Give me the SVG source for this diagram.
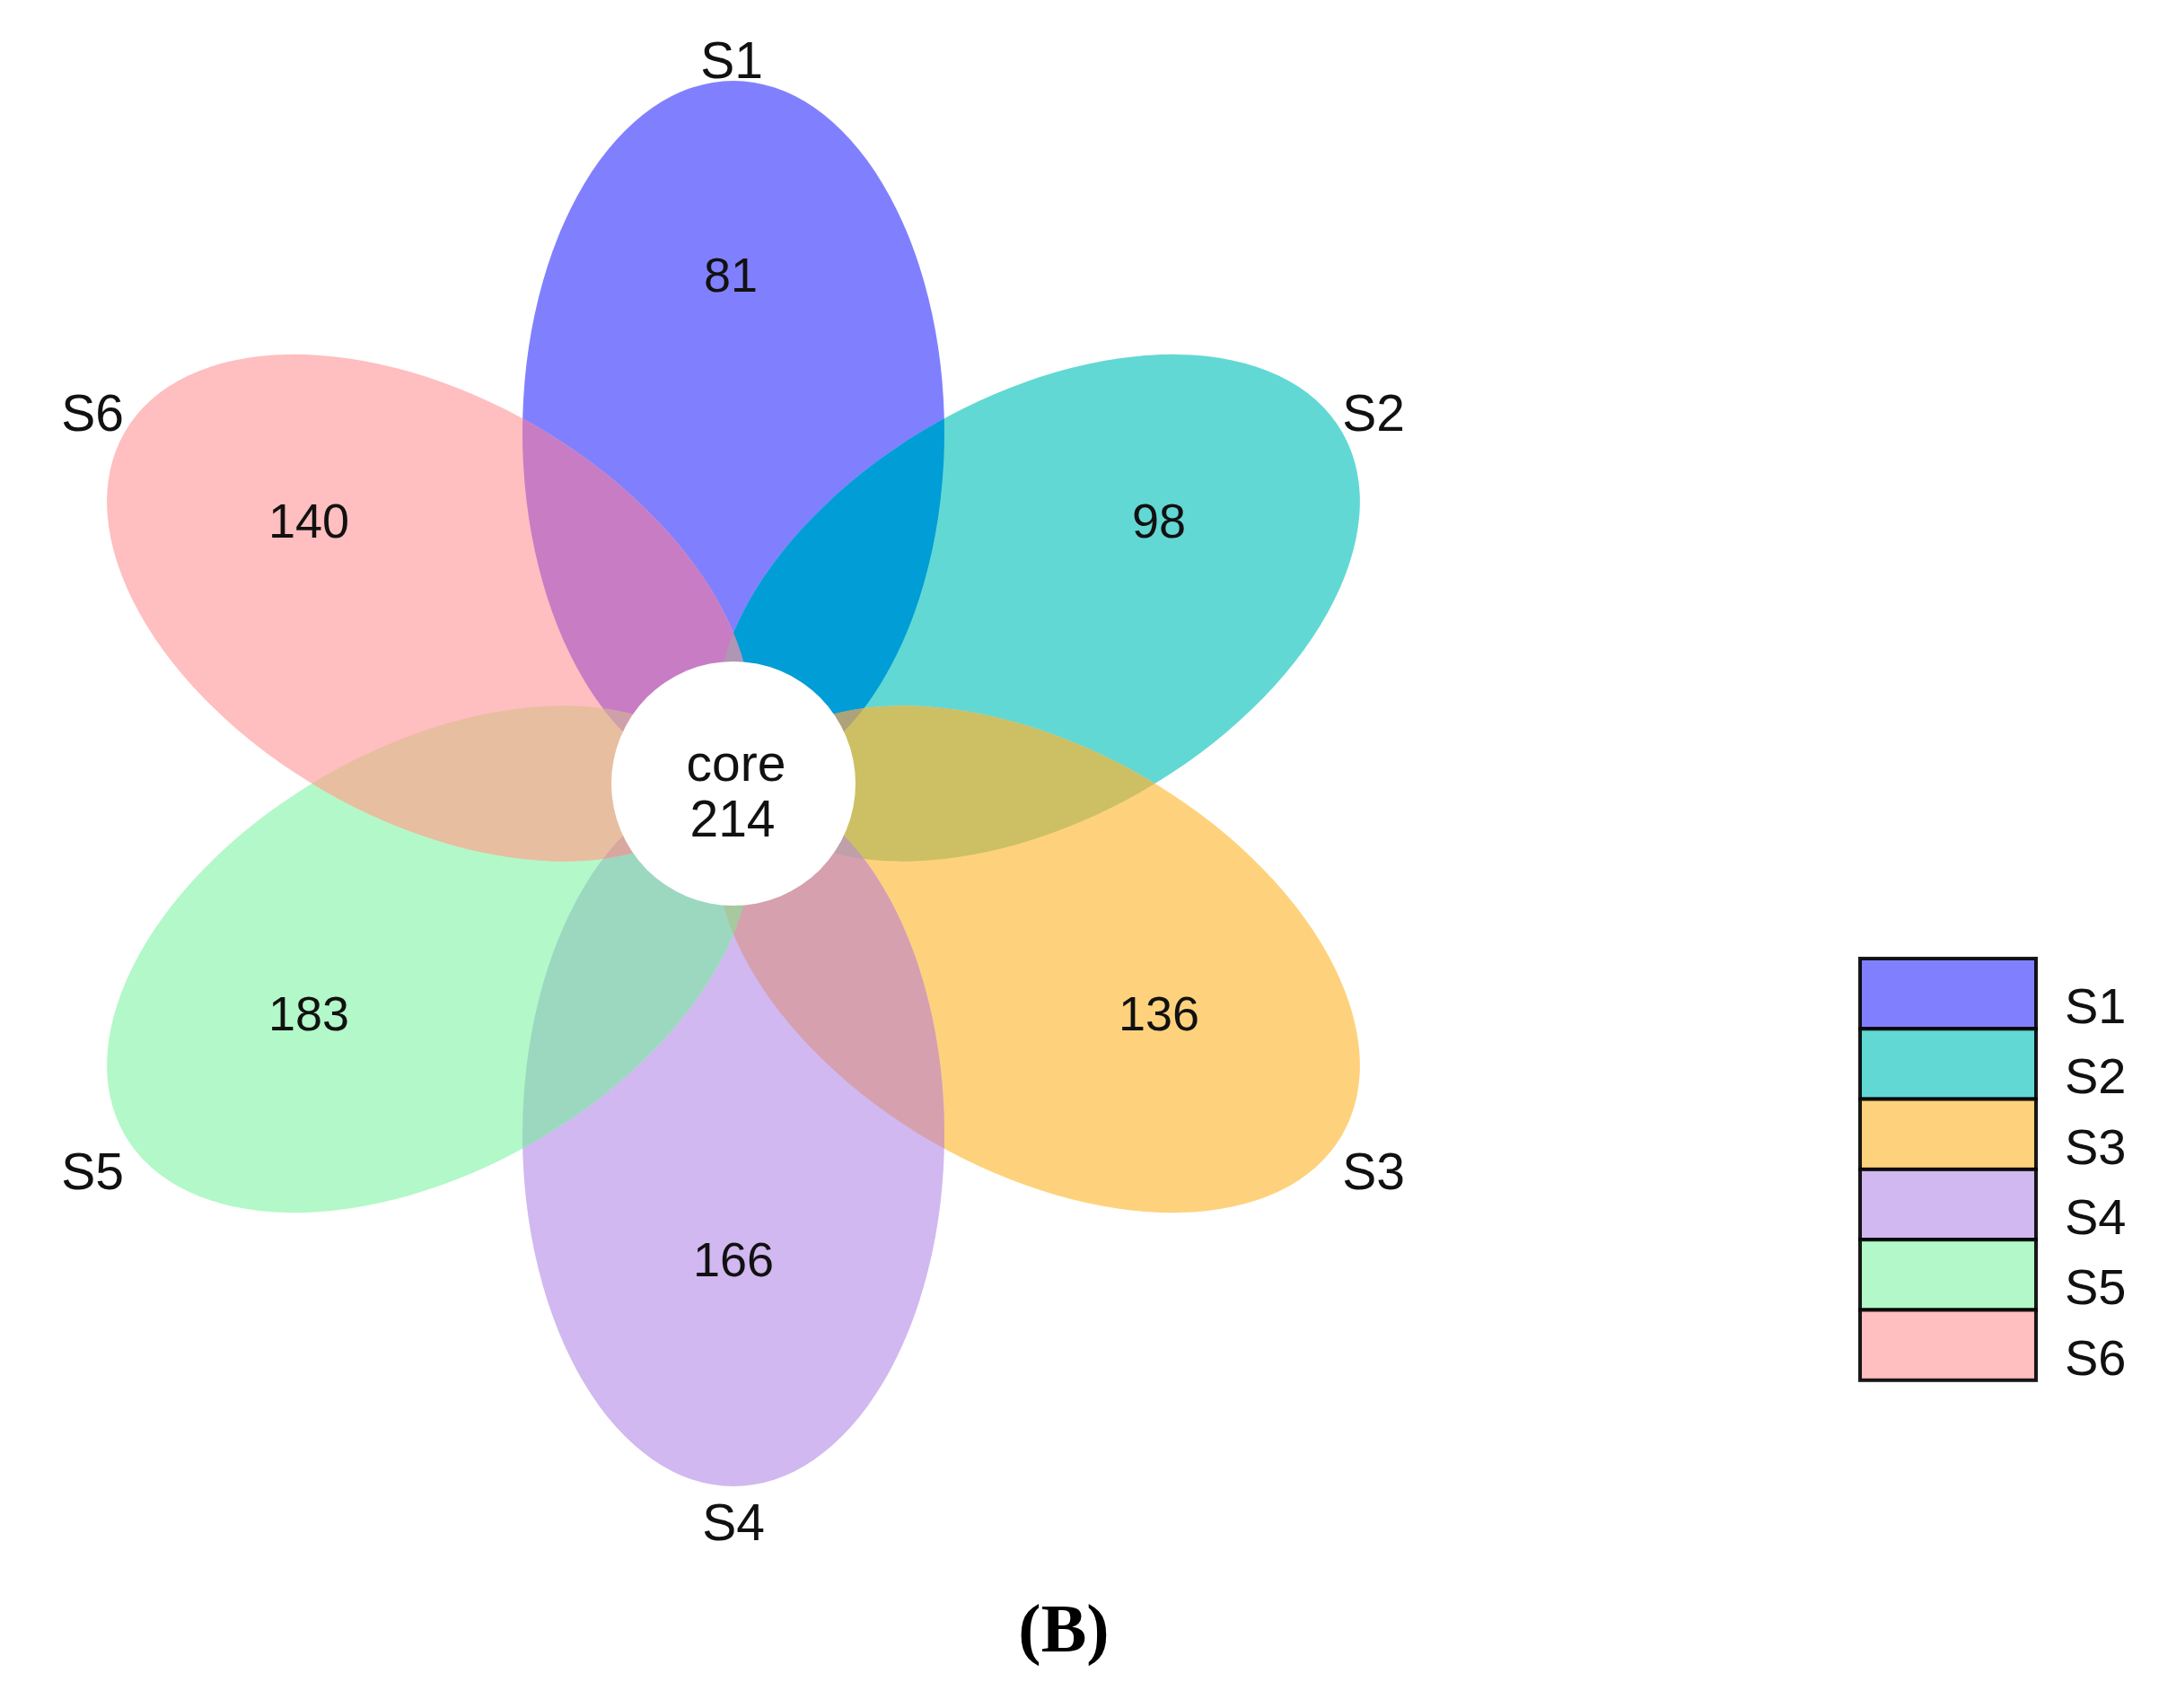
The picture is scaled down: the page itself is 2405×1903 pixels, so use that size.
<svg xmlns="http://www.w3.org/2000/svg" xmlns:xlink="http://www.w3.org/1999/xlink" width="2405" height="1903" viewBox="0 0 2405 1903">
<style>
text{font-family:"Liberation Sans",Arial,Helvetica,sans-serif;fill:#111;}
.lab{font-size:57px;text-anchor:middle;}
.num{font-size:54px;text-anchor:middle;}
.core{font-size:57px;text-anchor:middle;}
.leg{font-size:56px;}
.cap{font-family:"Liberation Serif","Times New Roman",serif;font-weight:bold;font-size:76px;text-anchor:middle;fill:#000;}
.lbox{stroke:#000;stroke-opacity:0.9;stroke-width:4;}
</style>
<defs>
<ellipse id="p0" cx="817" cy="481.5" rx="235" ry="391.5"/>
<ellipse id="p1" cx="817" cy="481.5" rx="235" ry="391.5" transform="rotate(60 817 873)"/>
<ellipse id="p2" cx="817" cy="481.5" rx="235" ry="391.5" transform="rotate(120 817 873)"/>
<ellipse id="p3" cx="817" cy="481.5" rx="235" ry="391.5" transform="rotate(180 817 873)"/>
<ellipse id="p4" cx="817" cy="481.5" rx="235" ry="391.5" transform="rotate(240 817 873)"/>
<ellipse id="p5" cx="817" cy="481.5" rx="235" ry="391.5" transform="rotate(300 817 873)"/>
<clipPath id="c0"><use xlink:href="#p0"/></clipPath>
<clipPath id="c1"><use xlink:href="#p1"/></clipPath>
<clipPath id="c2"><use xlink:href="#p2"/></clipPath>
<clipPath id="c3"><use xlink:href="#p3"/></clipPath>
<clipPath id="c4"><use xlink:href="#p4"/></clipPath>
<clipPath id="c5"><use xlink:href="#p5"/></clipPath>
</defs>
<rect width="2405" height="1903" fill="#fff"/>

<g id="S1"><use xlink:href="#p0" fill="#8080FF"/></g>
<g id="S2"><use xlink:href="#p1" fill="#62D8D4"/></g>
<g id="S3"><use xlink:href="#p2" fill="#FED27C"/></g>
<g id="S4"><use xlink:href="#p3" fill="#D1B8F0"/></g>
<g id="S5"><use xlink:href="#p4" fill="#B3F8C8"/></g>
<g id="S6"><use xlink:href="#p5" fill="#FFBEBF"/></g>

<g id="overlaps">
<g clip-path="url(#c0)"><use xlink:href="#p1" fill="#009DD6"/></g>
<g clip-path="url(#c1)"><use xlink:href="#p2" fill="#CDBF64"/></g>
<g clip-path="url(#c2)"><use xlink:href="#p3" fill="#D6A0AE"/></g>
<g clip-path="url(#c3)"><use xlink:href="#p4" fill="#9CD8C0"/></g>
<g clip-path="url(#c4)"><use xlink:href="#p5" fill="#E7BEA0"/></g>
<g clip-path="url(#c5)"><use xlink:href="#p0" fill="#C87CC4"/></g>
<g clip-path="url(#c5)"><use xlink:href="#p1" fill="#AE96B4"/></g>
<g clip-path="url(#c0)"><use xlink:href="#p2" fill="#AEA27A"/></g>
<g clip-path="url(#c1)"><use xlink:href="#p3" fill="#BFA0A8"/></g>
<g clip-path="url(#c2)"><use xlink:href="#p4" fill="#A8C8A0"/></g>
<g clip-path="url(#c3)"><use xlink:href="#p5" fill="#D8A8A0"/></g>
<g clip-path="url(#c4)"><use xlink:href="#p0" fill="#D0A0A8"/></g>
</g>

<g id="labels">
<text class="lab" x="815" y="87">S1</text>
<text class="lab" x="1530" y="480">S2</text>
<text class="lab" x="1530" y="1325">S3</text>
<text class="lab" x="817" y="1716">S4</text>
<text class="lab" x="103" y="1325">S5</text>
<text class="lab" x="103" y="480">S6</text>
<text class="num" x="814" y="325">81</text>
<text class="num" x="1291" y="599">98</text>
<text class="num" x="1291" y="1148">136</text>
<text class="num" x="817" y="1422">166</text>
<text class="num" x="344" y="1148">183</text>
<text class="num" x="344" y="599">140</text>
</g>

<g id="core">
<circle cx="817" cy="873" r="136" fill="#fff"/>
<text class="core" x="820" y="870">core</text>
<text class="core" x="816" y="932">214</text>
</g>

<g id="legend">
<rect class="lbox" x="2072" y="1068" width="196" height="78.3" fill="#8080FF"/>
<rect class="lbox" x="2072" y="1146.3" width="196" height="78.3" fill="#62D8D4"/>
<rect class="lbox" x="2072" y="1224.6" width="196" height="78.3" fill="#FED27C"/>
<rect class="lbox" x="2072" y="1302.9" width="196" height="78.3" fill="#D1B8F0"/>
<rect class="lbox" x="2072" y="1381.2" width="196" height="78.3" fill="#B3F8C8"/>
<rect class="lbox" x="2072" y="1459.5" width="196" height="78.3" fill="#FFBEBF"/>
<text class="leg" x="2300" y="1140">S1</text>
<text class="leg" x="2300" y="1218">S2</text>
<text class="leg" x="2300" y="1297">S3</text>
<text class="leg" x="2300" y="1375">S4</text>
<text class="leg" x="2300" y="1453">S5</text>
<text class="leg" x="2300" y="1532">S6</text>
</g>

<g id="caption">
<text class="cap" x="1185" y="1840">(B)</text>
</g>
</svg>
